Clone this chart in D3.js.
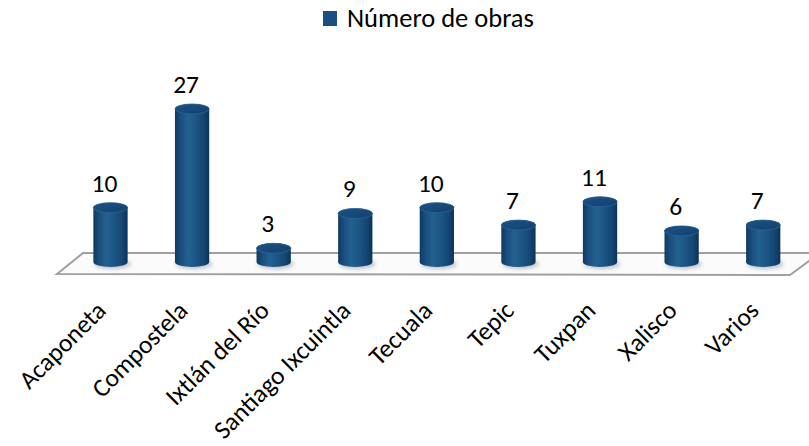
<!DOCTYPE html>
<html><head><meta charset="utf-8">
<script src="https://cdn.jsdelivr.net/npm/d3@7"></script>
<style>html,body{margin:0;padding:0;background:#fff;}svg{display:block;}</style>
</head><body>
<svg id="chart" width="809" height="446"></svg>
<script>
const categories = ["Acaponeta","Compostela","Ixtlán del Río","Santiago Ixcuintla","Tecuala","Tepic","Tuxpan","Xalisco","Varios"];
const values = [10,27,3,9,10,7,11,6,7];
const seriesName = "Número de obras";

const W = 809, H = 446;
const FONT = "Carlito, Calibri, Lato, sans-serif";
const FS = 25.5;
const svg = d3.select("#chart");
const defs = svg.append("defs");

const bodyGrad = defs.append("linearGradient").attr("id","cylBody").attr("x1","0").attr("x2","1").attr("y1","0").attr("y2","0");
[[0,"#0f3a60"],[0.18,"#19507f"],[0.38,"#22618f"],[0.6,"#1c5684"],[0.85,"#134572"],[1,"#0c3256"]].forEach(([o,c])=>bodyGrad.append("stop").attr("offset",o).attr("stop-color",c));
const topGrad = defs.append("linearGradient").attr("id","cylTop").attr("x1","0").attr("x2","1").attr("y1","0").attr("y2","1");
[[0,"#1c5282"],[0.5,"#17497a"],[1,"#123f6a"]].forEach(([o,c])=>topGrad.append("stop").attr("offset",o).attr("stop-color",c));
const blur = defs.append("filter").attr("id","shadow").attr("x","-50%").attr("y","-50%").attr("width","200%").attr("height","200%");
blur.append("feGaussianBlur").attr("stdDeviation",2);

const x = d3.scaleBand().domain(categories).range([69.7, 804]).paddingInner(0.58).paddingOuter(0.29);
const y = d3.scaleLinear().domain([0,27]).range([260.7,104]);
const ry = 5;
const baseY = 267;

// floor
const floorBackY = 253, floorFrontY = 274;
svg.append("path")
  .attr("d", `M57,${floorFrontY} L83,${floorBackY} L820,${floorBackY} L790,${floorFrontY+1} Z`)
  .attr("fill","#fbfbfb").attr("stroke","#a0a0a0").attr("stroke-width",2);

// bars (cylinders)
const bars = svg.append("g").selectAll("g").data(categories).join("g");
bars.each(function(c,i){
  const g = d3.select(this);
  const cx = x(c) + x.bandwidth()/2;
  const rx = x.bandwidth()/2;
  const ty = y(values[i]) + ry;
  const by = baseY - ry;
  g.append("ellipse").attr("cx",cx+2).attr("cy",by+2).attr("rx",rx+1).attr("ry",ry).attr("fill","#7a8a9a").attr("opacity",0.5).attr("filter","url(#shadow)");
  g.append("path")
    .attr("d",`M${cx-rx},${ty} L${cx-rx},${by} A${rx},${ry} 0 0 0 ${cx+rx},${by} L${cx+rx},${ty} A${rx},${ry} 0 0 0 ${cx-rx},${ty} Z`)
    .attr("fill","url(#cylBody)");
  g.append("ellipse").attr("cx",cx).attr("cy",ty).attr("rx",rx).attr("ry",ry).attr("fill","url(#cylTop)")
    .attr("stroke","#2a6699").attr("stroke-width",0.8);
  g.append("text").attr("x",cx-6).attr("y",y(values[i])-11)
    .attr("text-anchor","middle").attr("font-family",FONT).attr("font-size",FS).attr("fill","#000")
    .text(values[i]);
});

// category labels
svg.append("g").selectAll("text").data(categories).join("text")
  .attr("transform", c => `translate(${x(c)+x.bandwidth()/2-3},${312}) rotate(-45)`)
  .attr("text-anchor","end").attr("font-family",FONT).attr("font-size",FS).attr("fill","#000")
  .text(c => c);

// legend
const leg = svg.append("g");
leg.append("rect").attr("x",323).attr("y",11).attr("width",14).attr("height",15).attr("fill","#1a4f7f");
leg.append("text").attr("x",347).attr("y",27).attr("font-family",FONT).attr("font-size",FS+1).attr("fill","#000").text(seriesName);
</script>
</body></html>
